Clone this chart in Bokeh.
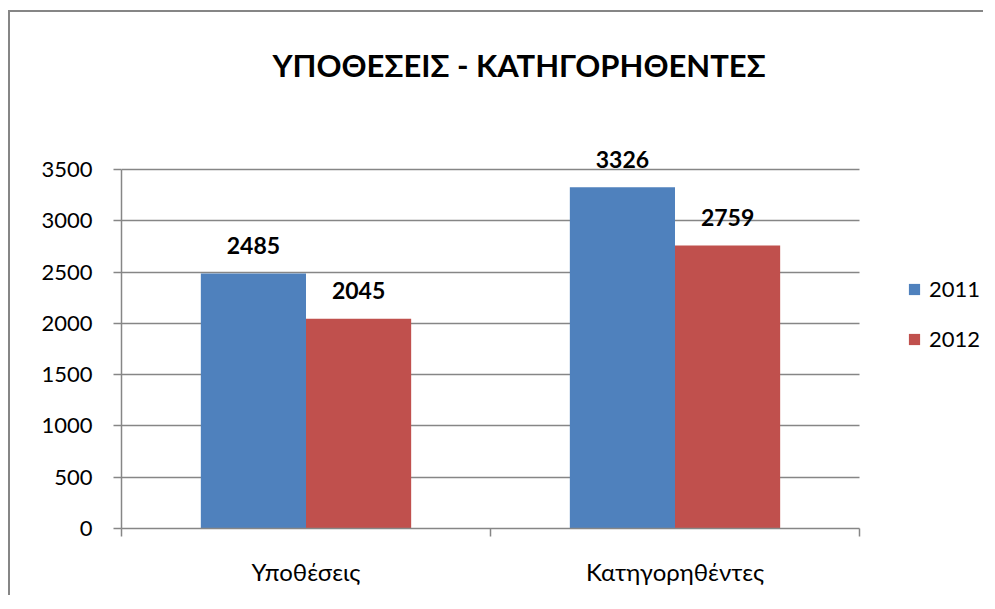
from bokeh.plotting import figure
from bokeh.models import (ColumnDataSource, Range1d, FixedTicker, LabelSet, Legend,
                          LegendItem)
from bokeh.core.properties import value
from bokeh.transform import dodge
from bokeh.embed import file_html
from bokeh.resources import INLINE

# ---- data ----
categories = ["Υποθέσεις", "Κατηγορηθέντες"]
years = ["2011", "2012"]
values_2011 = [2485, 3326]
values_2012 = [2045, 2759]
y_ticks = [0, 500, 1000, 1500, 2000, 2500, 3000, 3500]
title_text = "ΥΠΟΘΕΣΕΙΣ - ΚΑΤΗΓΟΡΗΘΕΝΤΕΣ"

# ---- style / layout ----
colors = ["#4F81BD", "#C0504D"]
gray = "#868686"
FONT = "Lato"
W, H = 975, 585
LEFT, TOP, BOTTOM = 111, 100, 516      # frame edges on the canvas (px)
AXIS_W_PX, AXIS_H_PX = 738, 359        # pixel length of the category axis / value axis
BAR_W = 0.285

n = len(categories)
centers = [i + 0.5 for i in range(n)]  # category slot centres on a 0..n axis
y_max = y_ticks[-1]
x_end = n * (W - LEFT) / AXIS_W_PX
y_end = y_max * (BOTTOM - TOP) / AXIS_H_PX

src = ColumnDataSource(dict(
    pos=centers,
    v2011=values_2011, v2012=values_2012,
    t2011=[str(v) for v in values_2011], t2012=[str(v) for v in values_2012],
))

p = figure(width=W, height=H,
           x_range=Range1d(0, x_end), y_range=Range1d(0, y_end),
           output_backend="svg", toolbar_location=None,
           min_border_left=LEFT, min_border_right=0,
           min_border_top=TOP, min_border_bottom=H - BOTTOM)
p.outline_line_color = None
p.background_fill_color = "white"
p.border_fill_color = "white"
# chart-area frame: only its left and top edges fall inside the window
p.styles = {"margin-left": "10px", "margin-top": "12px",
            "box-shadow": "-2px -2px 0px 0px #868686"}

# title
p.title.text = title_text
p.title.align = "left"
p.title.offset = 151
p.title.standoff = 57
p.title.text_font = FONT
p.title.text_font_size = "31px"
p.title.text_font_style = "bold"
p.title.text_color = "black"

# y axis
p.yaxis.bounds = (0, y_max)
p.yaxis.ticker = FixedTicker(ticks=y_ticks)
p.yaxis.major_tick_out = 8
p.yaxis.major_tick_in = 0
p.yaxis.minor_tick_line_color = None
p.yaxis.axis_line_color = gray
p.yaxis.axis_line_width = 1.5
p.yaxis.major_tick_line_color = gray
p.yaxis.major_tick_line_width = 1.5
p.yaxis.major_label_text_font = FONT
p.yaxis.major_label_text_font_size = "22px"
p.yaxis.major_label_text_color = "black"
p.yaxis.major_label_standoff = 21
p.ygrid.ticker = FixedTicker(ticks=y_ticks)
p.ygrid.cross_bounds = (0, n)
p.ygrid.grid_line_color = gray
p.ygrid.grid_line_width = 1.5
p.xgrid.visible = False

# x axis: category labels at slot centres, tick marks at slot boundaries
p.xaxis.bounds = (0, n)
p.xaxis.ticker = FixedTicker(ticks=centers, minor_ticks=list(range(n + 1)))
p.xaxis.major_label_overrides = {c: name for c, name in zip(centers, categories)}
p.xaxis.major_tick_line_color = None
p.xaxis.minor_tick_out = 8
p.xaxis.minor_tick_in = 0
p.xaxis.minor_tick_line_color = gray
p.xaxis.minor_tick_line_width = 1.5
p.xaxis.axis_line_color = gray
p.xaxis.axis_line_width = 1.5
p.xaxis.major_label_text_font = FONT
p.xaxis.major_label_text_font_size = "24px"
p.xaxis.major_label_text_color = "black"
p.xaxis.major_label_standoff = 20

# bars
r1 = p.vbar(x=dodge("pos", -BAR_W / 2), top="v2011", width=BAR_W,
            source=src, fill_color=colors[0], line_color=None)
r2 = p.vbar(x=dodge("pos", BAR_W / 2), top="v2012", width=BAR_W,
            source=src, fill_color=colors[1], line_color=None)

# value labels
for field, txt, off in (("v2011", "t2011", -BAR_W / 2), ("v2012", "t2012", BAR_W / 2)):
    ls = LabelSet(x=dodge("pos", off), y=field, text=txt, source=src,
                  y_offset=28, text_align="center", text_baseline="middle",
                  text_font=value(FONT), text_font_size=value("23px"),
                  text_font_style="bold", text_color="black")
    p.add_layout(ls)

# legend (to the right of the category axis)
legend = Legend(items=[LegendItem(label=years[0], renderers=[r1]),
                       LegendItem(label=years[1], renderers=[r2])],
                location=(786, 176), orientation="vertical",
                glyph_width=14, glyph_height=14, label_standoff=8,
                label_text_font=FONT, label_text_font_size="22px",
                label_text_color="black", spacing=23, padding=0, margin=0,
                border_line_color=None, background_fill_alpha=0)
p.add_layout(legend)

open("out.html", "w").write(file_html(p, INLINE))
